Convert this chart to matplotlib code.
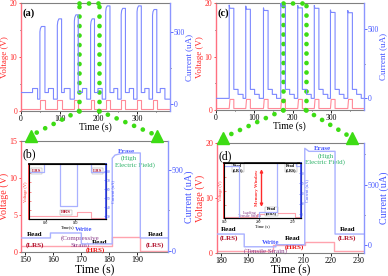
import matplotlib
matplotlib.use('Agg')
import matplotlib.pyplot as plt
from matplotlib.patches import ConnectionPatch
from matplotlib.ticker import MultipleLocator

plt.rcParams['font.family'] = ['Liberation Serif', 'DejaVu Serif']

RED = '#ff2a2a'
BLUE = '#4455ff'
RED_LINE = '#ff8a98'
BLUE_LINE = '#7c88ff'
RED_LINE_L = '#ffa3ae'
BLUE_LINE_L = '#a9b1ff'
GREEN = '#3ddc14'
DARKRED = '#b0102a'
PURPLE = '#8a3c8a'
TEAL = '#2fb36a'

# ---------------- data ----------------
# (a) compressive-strain cycles: R = read LRS, W = write, H = read HRS, E = erase
a_phase_start = [0, 30, 43, 49, 62, 71, 84, 94, 105, 112, 127, 138, 148, 159, 170, 180,
                 190, 199, 210, 219, 230, 240, 250, 259, 270, 280, 291, 300, 311, 320,
                 331, 340, 351, 360, 372]
a_phase_kind = ['R', 'W', 'H', 'E'] * 8 + ['R', 'W', 'H']
a_t_end = 385
a_levels = {'R': 78, 'W': 106, 'H': 32}
a_erase_on = [500, 545, 575, 545, 640, 620, 640, 615]
a_erase_mid = [522, 572, 600, 572, 665, 648, 665, 640]
a_erase_peak = [537, 590, 618, 590, 680, 663, 680, 655]
a_volt = {'R': 0.3, 'W': 0.3, 'H': 0.3, 'E': 2.0}

# (c) tensile-strain cycles: B = base, E = erase, L1/L2 = relaxation steps
c_phase_start = [0, 35, 47, 58, 71, 78, 90, 101, 113, 124, 136, 147, 158, 169, 181, 192,
                 204, 213, 225, 236, 248, 256, 268, 279, 291, 298, 310, 321, 333, 343,
                 355, 366, 378]
c_phase_kind = ['B', 'E', 'L1', 'L2'] * 8 + ['B']
c_t_end = 385
c_levels = {'B': 0, 'L1': 65, 'L2': 29}
c_erase_spike = [675, 668, 655, 690, 672, 672, 640, 636]
c_erase_plateau = [652, 645, 636, 668, 655, 652, 622, 620]
c_volt = {'B': 0.3, 'L1': 0.3, 'L2': 0.3, 'E': 2.0}

# (b) zoom of one compressive cycle
b_phase_start = [148.5, 159, 170, 181, 191]
b_phase_kind = ['R', 'W', 'H', 'E', 'R']
b_t_end = 201
b_levels = {'R': 79, 'W': 110, 'H': 42}
b_erase_on = [575]
b_erase_mid = [595]
b_erase_peak = [608]
b_volt_t = [148.5, 181, 181, 191, 191, 201]
b_volt_v = [0.9, 0.9, 2.0, 2.0, 0.2, 0.2]

# (d) zoom of one tensile cycle
d_phase_start = [178.5, 188.5, 200, 210.5, 221.5]
d_phase_kind = ['R', 'W', 'H', 'E', 'R']
d_t_end = 232
d_levels = {'R': 93, 'W': -12, 'H': 5}
d_erase_spike = [800]
d_erase_plateau = [775]
d_volt_t = [178.5, 199, 199, 210.5, 210.5, 221, 221, 232]
d_volt_v = [0.4, 0.4, 1.5, 1.5, 2.0, 2.0, 0.4, 0.4]

zoom_a = [150, 202]
zoom_c = [175, 234]


# ---------------- helpers ----------------
def current_curve(starts, kinds, t_end, levels, erase_pts):
    ts, vs = [], []
    ends = starts[1:] + [t_end]
    k = 0
    for t0, t1, kind in zip(starts, ends, kinds):
        if kind == 'E':
            pts = erase_pts(k)
            for dt, v in pts:
                ts.append(t0 + dt)
                vs.append(v)
            ts.append(t1)
            vs.append(pts[-1][1])
            k += 1
        else:
            ts += [t0, t1]
            vs += [levels[kind], levels[kind]]
    return ts, vs


def volt_curve(starts, kinds, t_end, volt, delay=0.0):
    ts, vs = [], []
    ends = starts[1:] + [t_end]
    for t0, t1, kind in zip(starts, ends, kinds):
        s = t0 + (delay if kind == 'E' else 0)
        ts += [s, t1]
        vs += [volt[kind], volt[kind]]
    return ts, vs


def style_twin(ax, ax2, lab_size, xlab_size, tick_size):
    ax.spines['left'].set_color('#ff7080')
    ax.spines['left'].set_linewidth(1.0)
    ax.spines['top'].set_color('#808080')
    ax.spines['bottom'].set_color('#808080')
    ax.spines['right'].set_visible(False)
    ax2.spines['right'].set_color('#8c96ff')
    ax2.spines['right'].set_linewidth(1.0)
    for s in ['left', 'top', 'bottom']:
        ax2.spines[s].set_visible(False)
    ax.tick_params(axis='y', colors=RED, labelsize=tick_size, length=1.8, width=0.6, pad=0.8)
    ax.tick_params(axis='x', colors='black', labelsize=tick_size, length=1.8, width=0.6, pad=0.8)
    ax.tick_params(which='minor', length=1.0, width=0.5)
    ax2.tick_params(axis='y', colors=BLUE, labelsize=tick_size, length=1.8, width=0.6, pad=0.8)
    ax2.tick_params(which='minor', length=1.0, width=0.5)
    ax.set_ylabel('Voltage (V)', color=RED, fontsize=lab_size, labelpad=0.3)
    ax2.set_ylabel('Current (uA)', color=BLUE, fontsize=lab_size, labelpad=0.3)
    ax.set_xlabel('Time (s)', fontsize=xlab_size, labelpad=0)


def style_inset(ins, ins2, xlabel):
    ins.spines['left'].set_color(RED)
    ins.spines['left'].set_linewidth(1.2)
    ins.spines['top'].set_linewidth(1.2)
    ins2.spines['right'].set_color('#3344ee')
    ins2.spines['right'].set_linewidth(1.2)
    ins.tick_params(labelsize=2.6, length=1.2, width=0.4, pad=0.3)
    ins.tick_params(axis='y', colors=RED, direction='in')
    ins2.tick_params(labelsize=2.6, length=1.2, width=0.4, pad=0.3, colors=BLUE, direction='in')
    ins.yaxis.set_tick_params(labelleft=False)
    ins.set_ylabel('Voltage (V)', fontsize=3.2, color=RED, labelpad=0.5)
    ins2.set_ylabel('Current (uA)', fontsize=3.2, color=BLUE, labelpad=0.5)
    ins.set_xlabel(xlabel, fontsize=3.2, labelpad=0)


fig = plt.figure(figsize=(3.88, 2.76), dpi=100)

# ---------------- (a) ----------------
ax_a = fig.add_axes([0.054, 0.598, 0.384, 0.391])
ax_a2 = ax_a.twinx()
ta, ia = current_curve(a_phase_start, a_phase_kind, a_t_end, a_levels,
                       lambda k: [(0, a_erase_on[k]), (1.2, a_erase_mid[k]), (4, a_erase_peak[k])])
va_t, va_v = volt_curve(a_phase_start, a_phase_kind, a_t_end, a_volt)
ax_a.plot(va_t, va_v, color=RED_LINE, lw=0.8)
ax_a2.plot(ta, ia, color=BLUE_LINE, lw=0.8)
ax_a.set_xlim(0, 385)
ax_a.set_ylim(0, 20)
ax_a2.set_ylim(-50, 700)
ax_a.set_yticks([0, 10, 20])
ax_a.yaxis.set_minor_locator(MultipleLocator(5))
ax_a.xaxis.set_major_locator(MultipleLocator(100))
ax_a.xaxis.set_minor_locator(MultipleLocator(50))
ax_a2.set_yticks([0, 500])
ax_a2.yaxis.set_minor_locator(MultipleLocator(250))
style_twin(ax_a, ax_a2, 6.5, 7, 5.5)
ax_a.text(0.01, 0.95, '(a)', transform=ax_a.transAxes, fontsize=7.5, va='top', ha='left', fontweight='bold')

# ---------------- (c) ----------------
ax_c = fig.add_axes([0.556, 0.601, 0.382, 0.388])
ax_c2 = ax_c.twinx()
tc, ic = current_curve(c_phase_start, c_phase_kind, c_t_end, c_levels,
                       lambda k: [(0, c_erase_spike[k]), (1.5, c_erase_plateau[k])])
vc_t, vc_v = volt_curve(c_phase_start, c_phase_kind, c_t_end, c_volt, delay=2)
ax_c.plot(vc_t, vc_v, color=RED_LINE, lw=0.8)
ax_c2.plot(tc, ic, color=BLUE_LINE, lw=0.8)
ax_c.set_xlim(0, 385)
ax_c.set_ylim(0, 20)
ax_c2.set_ylim(-85, 690)
ax_c.set_yticks([0, 10, 20])
ax_c.yaxis.set_minor_locator(MultipleLocator(5))
ax_c.xaxis.set_major_locator(MultipleLocator(100))
ax_c.xaxis.set_minor_locator(MultipleLocator(50))
ax_c2.set_yticks([0, 500])
ax_c2.yaxis.set_minor_locator(MultipleLocator(250))
style_twin(ax_c, ax_c2, 6.5, 7, 5.5)
ax_c.text(0.01, 0.95, '(c)', transform=ax_c.transAxes, fontsize=7.5, va='top', ha='left', fontweight='bold')

# ---------------- (b) ----------------
ax_b = fig.add_axes([0.054, 0.086, 0.380, 0.404])
ax_b2 = ax_b.twinx()
tb, ib = current_curve(b_phase_start, b_phase_kind, b_t_end, b_levels,
                       lambda k: [(0, b_erase_on[k]), (1.0, b_erase_mid[k]), (4, b_erase_peak[k])])
ax_b.plot(b_volt_t, b_volt_v, color=RED_LINE_L, lw=1.0)
ax_b2.plot(tb, ib, color=BLUE_LINE_L, lw=1.0)
ax_b.set_xlim(148.5, 201)
ax_b.set_ylim(0, 15)
ax_b2.set_ylim(-10, 684)
ax_b.set_yticks([0, 5, 10, 15])
ax_b.set_xticks([150, 160, 170, 180, 190])
ax_b2.set_yticks([0, 500])
ax_b2.yaxis.set_minor_locator(MultipleLocator(250))
style_twin(ax_b, ax_b2, 7.2, 8.5, 5.8)
ax_b.text(0.01, 0.93, '(b)', transform=ax_b.transAxes, fontsize=8.5, va='top', ha='left')

tkw = dict(transform=ax_b.transAxes, ha='center', va='center', fontsize=5)
ax_b.text(0.717, 0.905, 'Erase', color=BLUE, fontweight='bold', **tkw)
ax_b.text(0.729, 0.840, '(High', color=TEAL, **tkw)
ax_b.text(0.770, 0.778, 'Electric Field)', color=TEAL, **tkw)
ax_b.text(0.095, 0.155, 'Read', color='black', fontweight='bold', **tkw)
ax_b.text(0.095, 0.062, '(LRS)', color=DARKRED, fontweight='bold', **tkw)
ax_b.text(0.425, 0.208, 'Write', color=BLUE, fontweight='bold', **tkw)
ax_b.text(0.401, 0.128, '(Compressive', color=PURPLE, **tkw)
ax_b.text(0.401, 0.060, 'Strain)', color=PURPLE, **tkw)
ax_b.text(0.535, 0.092, 'Read', color='black', fontweight='bold', **tkw)
ax_b.text(0.505, 0.020, '(HRS)', color='#ee1111', fontweight='bold', **tkw)
ax_b.text(0.910, 0.155, 'Read', color='black', fontweight='bold', **tkw)
ax_b.text(0.910, 0.062, '(LRS)', color=DARKRED, fontweight='bold', **tkw)

# inset (b)
bb = dict(boxstyle='square,pad=0.15', fc='white', ec='#999999', lw=0.3)
ins_b = ax_b.inset_axes([0.054, 0.298, 0.523, 0.493])
ins_b2 = ins_b.twinx()
ins_b.plot(b_volt_t, b_volt_v, color=RED_LINE_L, lw=0.8)
ins_b2.plot(tb, ib, color=BLUE_LINE_L, lw=0.9)
ins_b.set_xlim(148.5, 201)
ins_b.set_ylim(0, 15)
ins_b2.set_ylim(27, 88)
ins_b.set_xticks([160, 180])
style_inset(ins_b, ins_b2, 'Time(s)')
for fx, fy, s in [(0.1, 0.87, 'LRS'), (0.89, 0.87, 'LRS'), (0.48, 0.12, 'HRS')]:
    ins_b.text(fx, fy, s, transform=ins_b.transAxes, fontsize=3.5, color=DARKRED,
               fontweight='bold', ha='center', va='center', bbox=bb)

# ---------------- (d) ----------------
ax_d = fig.add_axes([0.5585, 0.083, 0.3795, 0.399])
ax_d2 = ax_d.twinx()
td, idd = current_curve(d_phase_start, d_phase_kind, d_t_end, d_levels,
                        lambda k: [(0, d_erase_spike[k]), (1.5, d_erase_plateau[k])])
ax_d.plot(d_volt_t, d_volt_v, color=RED_LINE_L, lw=1.0)
ax_d2.plot(td, idd, color=BLUE_LINE_L, lw=1.0)
ax_d.set_xlim(178.5, 232)
ax_d.set_ylim(0, 20)
ax_d2.set_ylim(-64, 844)
ax_d.set_yticks([0, 10, 20])
ax_d.set_xticks([180, 190, 200, 210, 220, 230])
ax_d2.set_yticks([0, 500])
ax_d2.yaxis.set_minor_locator(MultipleLocator(250))
style_twin(ax_d, ax_d2, 7.2, 8.5, 5.8)
ax_d2.yaxis.labelpad = 0
ax_d.text(0.01, 0.935, '(d)', transform=ax_d.transAxes, fontsize=8.5, va='top', ha='left')

tkw = dict(transform=ax_d.transAxes, ha='center', va='center', fontsize=5)
ax_d.text(0.717, 0.950, 'Erase', color=BLUE, fontweight='bold', **tkw)
ax_d.text(0.740, 0.885, '(High', color=TEAL, **tkw)
ax_d.text(0.735, 0.822, 'Electric Field)', color=TEAL, **tkw)
ax_d.text(0.083, 0.215, 'Read', color='black', fontweight='bold', **tkw)
ax_d.text(0.083, 0.136, '(LRS)', color=DARKRED, fontweight='bold', **tkw)
ax_d.text(0.367, 0.092, 'Write', color=BLUE, fontweight='bold', **tkw)
ax_d.text(0.333, 0.022, '(Tensile Strain)', color=PURPLE, **tkw)
ax_d.text(0.513, 0.128, 'Read', color='black', fontweight='bold', **tkw)
ax_d.text(0.525, 0.052, '(HRS)', color='#ee1111', fontweight='bold', **tkw)
ax_d.text(0.887, 0.215, 'Read', color='black', fontweight='bold', **tkw)
ax_d.text(0.887, 0.136, '(LRS)', color=DARKRED, fontweight='bold', **tkw)

# inset (d)
ins_d = ax_d.inset_axes([0.05, 0.315, 0.52, 0.50])
ins_d2 = ins_d.twinx()
ins_d.plot(d_volt_t, d_volt_v, color=RED_LINE_L, lw=0.8)
ins_d2.plot(td, idd, color=BLUE_LINE_L, lw=0.9)
ins_d.set_xlim(179.5, 224.5)
ins_d.set_ylim(0, 20)
ins_d2.set_ylim(-8, 99)
ins_d.set_xticks([180, 200, 220])
style_inset(ins_d, ins_d2, 'Time (s)')
ins_d.text(0.18, 0.92, 'Read\n(LRS)', transform=ins_d.transAxes, fontsize=3, color='black',
           fontweight='bold', ha='center', va='center', bbox=bb, linespacing=0.9)
ins_d.text(0.87, 0.92, 'Read\n(LRS)', transform=ins_d.transAxes, fontsize=3, color='black',
           fontweight='bold', ha='center', va='center', bbox=bb, linespacing=0.9)
ins_d.text(0.33, 0.07, 'Loading\nTensile Strain', transform=ins_d.transAxes, fontsize=3,
           color=PURPLE, ha='center', va='center', linespacing=0.9)
ins_d.text(0.62, 0.13, 'Read\n(HRS)', transform=ins_d.transAxes, fontsize=3, color='black',
           fontweight='bold', ha='center', va='center', bbox=bb, linespacing=0.9)
ins_d2.annotate('', xy=(201.5, d_levels['R']), xytext=(201.5, d_levels['H'] + 4),
                arrowprops=dict(arrowstyle='<|-|>', color=RED, lw=1.0, mutation_scale=4))
ins_d.text(0.43, 0.55, 'Memory Window', transform=ins_d.transAxes, fontsize=3.5, color=RED,
           fontweight='bold', rotation=90, ha='center', va='center')

# ---------------- green zoom connectors ----------------
dot = dict(color=GREEN, lw=3.4, linestyle=(0, (0.01, 2.0)), dash_capstyle='round')
for ax_top, zr in [(ax_a, zoom_a), (ax_c, zoom_c)]:
    for x in zr:
        ax_top.plot([x, x], [0, 20], clip_on=False, zorder=5, **dot)
    ax_top.plot(zr, [20, 20], clip_on=False, zorder=5, **dot)

for ax_top, ax_bot, zr, fx in [(ax_a, ax_b, zoom_a, (0.065, 0.925)), (ax_c, ax_d, zoom_c, (0.04, 0.92))]:
    for x, f in zip(zr, fx):
        con = ConnectionPatch(xyA=(x, 0), coordsA=ax_top.transData,
                              xyB=(f, 1.045), coordsB=ax_bot.transAxes,
                              arrowstyle='-', color=GREEN, lw=3.4,
                              linestyle=(0, (0.01, 2.0)), capstyle='round', zorder=10)
        fig.add_artist(con)
        ax_bot.plot([f], [1.045], transform=ax_bot.transAxes, marker='^', ms=8,
                    color=GREEN, clip_on=False, zorder=10)

fig.savefig('out.png', dpi=100)
